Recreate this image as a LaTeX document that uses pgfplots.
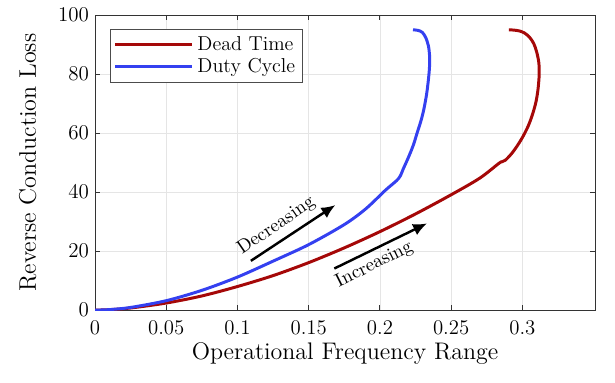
\documentclass[border=0pt]{standalone}
\usepackage{pgfplots}
\pgfplotsset{compat=1.18}
\usetikzlibrary{arrows.meta}
\definecolor{dtred}{RGB}{165,8,8}
\definecolor{dcblue}{RGB}{52,64,240}
\begin{document}
\begin{tikzpicture}
\begin{axis}[
  scale only axis,
  width=285.7pt, height=168.6pt,
  xmin=0, xmax=0.351, ymin=0, ymax=100,
  xtick={0,0.05,0.1,0.15,0.2,0.25,0.3},
  ytick={0,20,40,60,80,100},
  xticklabels={0,0.05,0.1,0.15,0.2,0.25,0.3},
  grid=major,
  major grid style={draw=black!10, line width=0.5pt},
  axis line style={draw=black!80, line width=0.6pt},
  tick style={draw=black!80, line width=0.6pt},
  tick align=inside,
  major tick length=3pt,
  ticklabel style={font=\fontsize{11.9}{13}\selectfont},
  xticklabel style={yshift=-2.5pt},
  xlabel={Operational Frequency Range},
  ylabel={Reverse Conduction Loss},
  label style={font=\fontsize{13.7}{15}\selectfont},
  xlabel style={yshift=2.5pt},
  ylabel style={yshift=5.5pt},
  legend style={at={(0.03,0.953)}, anchor=north west, draw=black!70, line width=0.5pt,
    font=\fontsize{11.5}{13}\selectfont, row sep=-1pt, inner sep=2pt},
  legend cell align=left,
  legend image code/.code={\draw[#1] (0pt,0pt) -- (44pt,0pt);},
]
\addplot[dtred, line width=1.7pt, smooth, tension=0.5] coordinates {
(0,0) (0.01,0.15) (0.025,0.72) (0.05,2.4) (0.075,4.8) (0.1,8.0) (0.125,11.7)
(0.15,16.1) (0.175,21.1) (0.2,26.6) (0.225,32.6) (0.25,39.1) (0.27,44.7)
(0.2834,49.7) (0.2858,50.3) (0.288,50.8) (0.292,52.8) (0.296,55.4) (0.300,58.5)
(0.304,62.3) (0.307,66.2) (0.3095,70.5) (0.311,75) (0.3118,80) (0.3115,84)
(0.310,87.5) (0.308,90.3) (0.305,92.5) (0.3015,93.9) (0.298,94.6) (0.294,94.9) (0.2905,95.0)
};
\addlegendentry{Dead Time}
\addplot[dcblue, line width=1.7pt, smooth, tension=0.5] coordinates {
(0,0) (0.01,0.17) (0.025,0.91) (0.05,3.2) (0.075,6.7) (0.1,11.2) (0.125,16.6)
(0.15,22.2) (0.175,29) (0.19,34.3) (0.204,40.7) (0.2131,44.6) (0.2165,48) (0.2202,52)
(0.2235,56) (0.226,59.9) (0.2287,64) (0.2307,67.8) (0.2327,73) (0.234,78) (0.2348,82.5)
(0.2348,86.5) (0.234,89.6) (0.2322,92.3) (0.2298,94.1) (0.2268,94.8) (0.2232,95)
};
\addlegendentry{Duty Cycle}
\draw[black, line width=1.4pt, -{Latex[length=8pt,width=7pt]}] (axis cs:0.1094,16.7) -- (axis cs:0.1687,35.6);
\draw[black, line width=1.4pt, -{Latex[length=8pt,width=7pt]}] (axis cs:0.168,14.1) -- (axis cs:0.2331,29.4);
\node[rotate=34.4, yshift=2pt, font=\fontsize{10.8}{12}\selectfont] at (axis cs:0.1286,27.5) {Decreasing};
\node[rotate=26.6, yshift=-1pt, font=\fontsize{10.8}{12}\selectfont] at (axis cs:0.1954,15.9) {Increasing};
\end{axis}
\pgfresetboundingbox
\path[use as bounding box] ([shift={(-54.3pt,-41.1pt)}]current axis.south west) rectangle ([shift={(11.4pt,8.6pt)}]current axis.north east);
\end{tikzpicture}
\end{document}
